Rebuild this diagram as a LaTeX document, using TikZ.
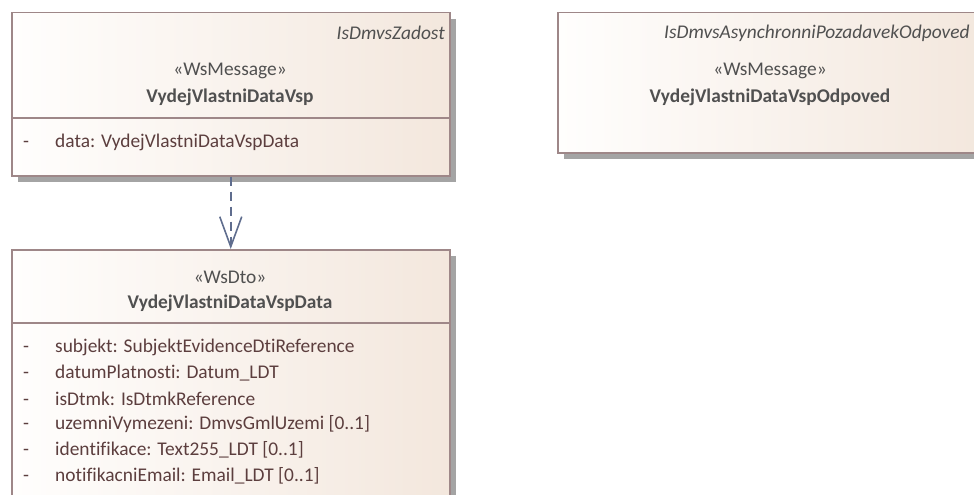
\documentclass[tikz,border=0pt]{standalone}
\usepackage{fontspec}
\setmainfont{Carlito}[Ligatures=NoCommon]
\usetikzlibrary{positioning,arrows.meta,shadows}
\definecolor{boxline}{HTML}{9E8788}
\definecolor{boxfill}{HTML}{F3E7DD}
\definecolor{boxlight}{HTML}{FFFEFD}
\definecolor{boxshadow}{HTML}{A4A4A4}
\definecolor{stereo}{HTML}{505050}
\definecolor{attrtext}{HTML}{5C3E3E}
\definecolor{deplink}{HTML}{5F6D8E}
\tikzstyle{classbox} = [draw=boxline, line width=1.5pt, rectangle, left color=boxlight, right color=boxfill, anchor=north west, inner sep=0pt, drop shadow={shadow xshift=6pt, shadow yshift=-6pt, fill=boxshadow, opacity=1}]
\tikzstyle{divider} = [draw=boxline, line width=1.5pt]
\tikzstyle{tag} = [font=\fontsize{19.4}{22}\selectfont\itshape, text=stereo, inner sep=0pt]
\tikzstyle{stereotype} = [font=\fontsize{19.4}{22}\selectfont, text=stereo, inner sep=0pt]
\tikzstyle{classname} = [font=\fontsize{19.4}{22}\selectfont\bfseries, text=stereo, inner sep=0pt]
\tikzstyle{attr} = [font=\fontsize{19.4}{22}\selectfont, text=attrtext, inner sep=0pt, anchor=west]
\newcommand{\attrline}[1]{\makebox[32pt][l]{-}#1}

\begin{document}
\begin{tikzpicture}[x=1pt, y=-1pt]

\useasboundingbox (0,0) rectangle (974,495);
\clip (0,0) rectangle (974,495);

% message classes
\node [classbox, minimum width=438pt, minimum height=163pt] (zadost) at (11,12) {};
\draw [divider] (zadost.north west) ++(0,106) coordinate (zadostDiv) -- ++(438,0);
\node [tag, anchor=east] (zadostTag) at (445,33) {IsDmvsZadost};
\node [stereotype] (zadostStereo) at (230,71) {«WsMessage»};
\node [classname] (zadostName) at (230,97) {VydejVlastniDataVsp};
\node [attr] (zadostData) at (23,142) {\attrline{data: VydejVlastniDataVspData}};

\node [classbox, minimum width=426pt, minimum height=140pt] (odpoved) at (557,12) {};
\node [tag, anchor=west] (odpovedTag) at (664,33) {IsDmvsAsynchronniPozadavekOdpoved};
\node [stereotype] (odpovedStereo) at (770,71) {«WsMessage»};
\node [classname] (odpovedName) at (770,97) {VydejVlastniDataVspOdpoved};

% data class
\node [classbox, minimum width=438pt, minimum height=280pt] (wsdata) at (11,249) {};
\draw [divider] (wsdata.north west) ++(0,74) coordinate (wsdataDiv) -- ++(438,0);
\node [stereotype] (wsdataStereo) at (230,277) {«WsDto»};
\node [classname] (wsdataName) at (230,303) {VydejVlastniDataVspData};
\node [attr] (subjekt) at (23,347) {\attrline{subjekt: SubjektEvidenceDtiReference}};
\node [attr] (datum) at ([yshift=-25.8pt]subjekt.west) {\attrline{datumPlatnosti: Datum\_LDT}};
\node [attr] (isdtmk) at ([yshift=-25.8pt]datum.west) {\attrline{isDtmk: IsDtmkReference}};
\node [attr] (uzemi) at ([yshift=-25.8pt]isdtmk.west) {\attrline{uzemniVymezeni: DmvsGmlUzemi [0..1]}};
\node [attr] (ident) at ([yshift=-25.8pt]uzemi.west) {\attrline{identifikace: Text255\_LDT [0..1]}};
\node [attr] (email) at ([yshift=-25.8pt]ident.west) {\attrline{notifikacniEmail: Email\_LDT [0..1]}};

% dependency
\draw [deplink, line width=1.6pt, dash pattern=on 9pt off 6pt, -{Straight Barb[length=30pt, width=22pt, line width=1.6pt]}] (zadost.south) -- (wsdata.north);

\end{tikzpicture}
\end{document}
